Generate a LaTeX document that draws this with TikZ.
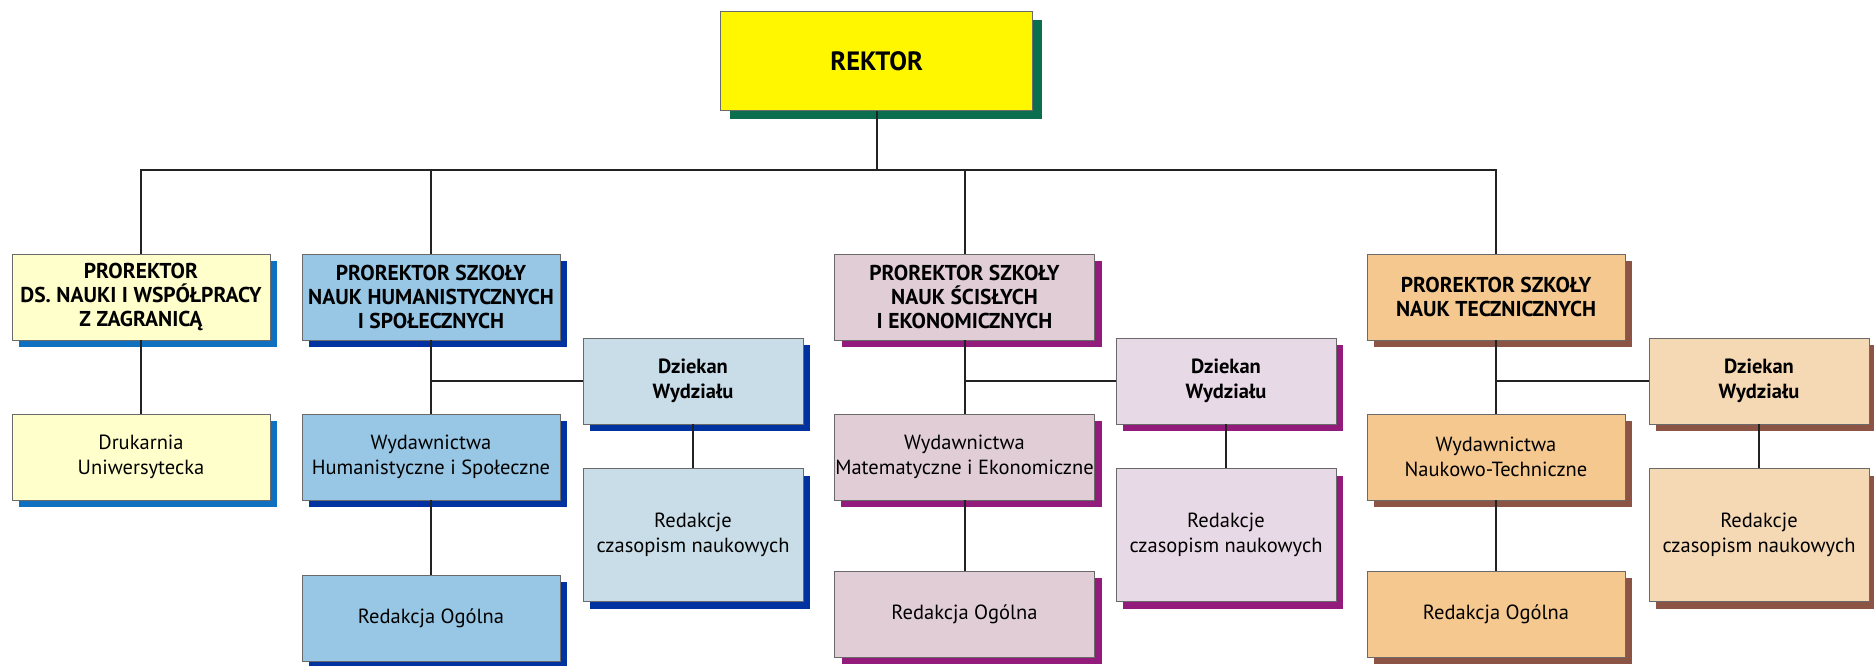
\documentclass[tikz,border=0pt]{standalone}
\usepackage{fontspec}
\setmainfont{PT Sans}
\usetikzlibrary{shadows}

\definecolor{rekfill}{HTML}{FFF700}
\definecolor{rekshad}{HTML}{0B6E4F}
\definecolor{nfill}{HTML}{FFFFCC}
\definecolor{nshad}{HTML}{1070C0}
\definecolor{hfill}{HTML}{97C7E5}
\definecolor{hlight}{HTML}{C8DDE8}
\definecolor{hshad}{HTML}{0033A0}
\definecolor{sfill}{HTML}{E0CDD5}
\definecolor{slight}{HTML}{E8D9E7}
\definecolor{sshad}{HTML}{931B7B}
\definecolor{tfill}{HTML}{F5C890}
\definecolor{tlight}{HTML}{F5D8B4}
\definecolor{tshad}{HTML}{8C5444}
\definecolor{boxline}{HTML}{6A6A6A}
\definecolor{linecol}{HTML}{222222}

\tikzset{
	box/.style={draw=boxline, line width=0.9pt, minimum width=258pt, minimum height=86pt,
		align=center, inner sep=1pt, font=\fontsize{20.5}{25.5}\selectfont},
	head/.style={box, font=\fontsize{21.5}{23.7}\selectfont\bfseries},
	dzbox/.style={box, minimum width=220pt, font=\fontsize{20.5}{25}\selectfont\bfseries},
	czbox/.style={box, minimum width=220pt, minimum height=133pt},
	shad/.style={general shadow={fill=#1, draw=none, shadow xshift=7pt, shadow yshift=-7pt}},
	conn/.style={draw=linecol, line width=2pt},
	branch/.style={draw=linecol, line width=1.4pt},
}

\begin{document}
\begin{tikzpicture}[x=1pt, y=1pt]
	\useasboundingbox (0,0) rectangle (1874,-665);
	%rektor
	\node[box, fill=rekfill, minimum width=312pt, minimum height=99pt,
		general shadow={fill=rekshad, shadow xshift=9pt, shadow yshift=-8pt},
		font=\fontsize{26.5}{30}\selectfont\bfseries] (rektor) at (876.7,-61.2) {REKTOR};
	\coordinate (bus) at (876.7,-170);
	%prorektor ds. nauki
	\node[head, shad=nshad, fill=nfill] (prN) at (141,-297) {PROREKTOR\\DS. NAUKI I WSPÓŁPRACY\\Z ZAGRANICĄ};
	\node[box, shad=nshad, fill=nfill] (druk) at (141,-457) {Drukarnia\\Uniwersytecka};
	%szkola humanistyczna
	\node[head, shad=hshad, fill=hfill] (prH) at (431,-297) {PROREKTOR SZKOŁY\\NAUK HUMANISTYCZNYCH\\I SPOŁECZNYCH};
	\node[box, shad=hshad, fill=hfill] (wydH) at (431,-457) {Wydawnictwa\\Humanistyczne i Społeczne};
	\node[box, shad=hshad, fill=hfill] (ogH) at (431,-618) {Redakcja Ogólna};
	\node[dzbox, shad=hshad, fill=hlight] (dzH) at (693,-381) {Dziekan\\Wydziału};
	\node[czbox, shad=hshad, fill=hlight] (czH) at (693,-535) {Redakcje\\czasopism naukowych};
	%szkola scisla
	\node[head, shad=sshad, fill=sfill, minimum width=260pt] (prS) at (964.5,-297) {PROREKTOR SZKOŁY\\NAUK ŚCISŁYCH\\I EKONOMICZNYCH};
	\node[box, shad=sshad, fill=sfill, minimum width=260pt] (wydS) at (964.5,-457) {Wydawnictwa\\Matematyczne i Ekonomiczne};
	\node[box, shad=sshad, fill=sfill, minimum width=260pt] (ogS) at (964.5,-614) {Redakcja Ogólna};
	\node[dzbox, shad=sshad, fill=slight] (dzS) at (1226,-381) {Dziekan\\Wydziału};
	\node[czbox, shad=sshad, fill=slight] (czS) at (1226,-535) {Redakcje\\czasopism naukowych};
	%szkola techniczna
	\node[head, shad=tshad, fill=tfill] (prT) at (1496,-297) {PROREKTOR SZKOŁY\\NAUK TECZNICZNYCH};
	\node[box, shad=tshad, fill=tfill] (wydT) at (1496,-457) {Wydawnictwa\\Naukowo-Techniczne};
	\node[box, shad=tshad, fill=tfill] (ogT) at (1496,-614) {Redakcja Ogólna};
	\node[dzbox, shad=tshad, fill=tlight] (dzT) at (1759,-381) {Dziekan\\Wydziału};
	\node[czbox, shad=tshad, fill=tlight] (czT) at (1759,-535) {Redakcje\\czasopism naukowych};
	%linie
	\draw[conn] (rektor.south) -- (bus);
	\foreach \n in {prN, prH, prS, prT} {
		\draw[conn] (\n.north) |- (bus);
	}
	\draw[conn] (prN.south) -- (druk.north);
	\foreach \k in {H, S, T} {
		\draw[conn] (pr\k.south) -- (wyd\k.north);
		\draw[conn] (wyd\k.south) -- (og\k.north);
		\draw[branch] (dz\k.west) -- (dz\k.west -| pr\k.south);
		\draw[branch] (dz\k.south) -- (cz\k.north);
	}
\end{tikzpicture}
\end{document}
